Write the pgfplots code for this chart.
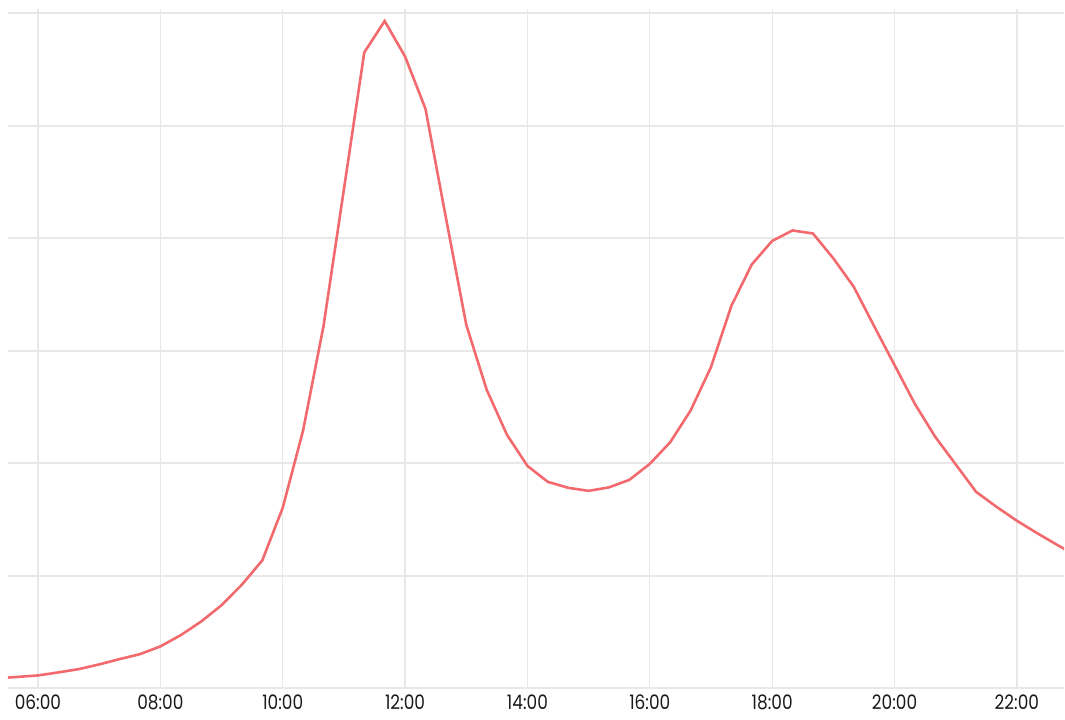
\documentclass[border=0pt]{standalone}
\usepackage{fontspec}
\setmainfont{Poppins}
\newfontfamily\lblfont[FakeStretch=0.85]{Poppins}
\usepackage{pgfplots}
\pgfplotsset{compat=1.18}
\definecolor{linered}{RGB}{242,106,110}
\definecolor{gridgray}{RGB}{232,232,232}
\pgfplotstableread{
t v
5.3333 0.089
5.6667 0.102
6.0000 0.115
6.3333 0.142
6.6667 0.171
7.0000 0.213
7.3333 0.260
7.6667 0.304
8.0000 0.373
8.3333 0.473
8.6667 0.594
9.0000 0.739
9.3333 0.922
9.6667 1.138
10.0000 1.605
10.3333 2.293
10.6667 3.220
11.0000 4.435
11.3333 5.654
11.6667 5.933
12.0000 5.617
12.3333 5.153
12.6667 4.186
13.0000 3.233
13.3333 2.656
13.6667 2.253
14.0000 1.978
14.3333 1.836
14.6667 1.783
15.0000 1.756
15.3333 1.787
15.6667 1.854
16.0000 1.996
16.3333 2.188
16.6667 2.470
17.0000 2.856
17.3333 3.401
17.6667 3.769
18.0000 3.978
18.3333 4.071
18.6667 4.044
19.0000 3.823
19.3333 3.570
19.6667 3.220
20.0000 2.874
20.3333 2.528
20.6667 2.235
21.0000 1.991
21.3333 1.747
21.6667 1.614
22.0000 1.490
22.3333 1.379
22.6667 1.273
23.0000 1.171
}\datatable
\begin{document}
\begin{tikzpicture}
\begin{axis}[
  scale only axis,
  width=1057bp, height=680bp,
  xmin=5.51, xmax=22.77,
  ymin=0, ymax=6.04,
  axis line style={draw=none},
  clip=true,
  xtick={6,8,...,22},
  xticklabels={06:00,08:00,10:00,12:00,14:00,16:00,18:00,20:00,22:00},
  ytick={0,1,...,6},
  yticklabels={},
  major tick length=0pt,
  xmajorgrids, ymajorgrids,
  x grid style={gridgray, line width=1.2bp},
  y grid style={gridgray, line width=2bp},
  xticklabel style={font=\lblfont\fontsize{20}{20}\selectfont, text=black!90, anchor=north, yshift=-3bp},
  /pgf/number format/assume math mode=true,
]
\addplot[linered, line width=2.6bp, no markers] table[x=t, y=v] {\datatable};
\end{axis}
\path ([xshift=-8bp,yshift=-31bp]current axis.south west) rectangle ([yshift=9bp]current axis.north east);
\end{tikzpicture}
\end{document}
